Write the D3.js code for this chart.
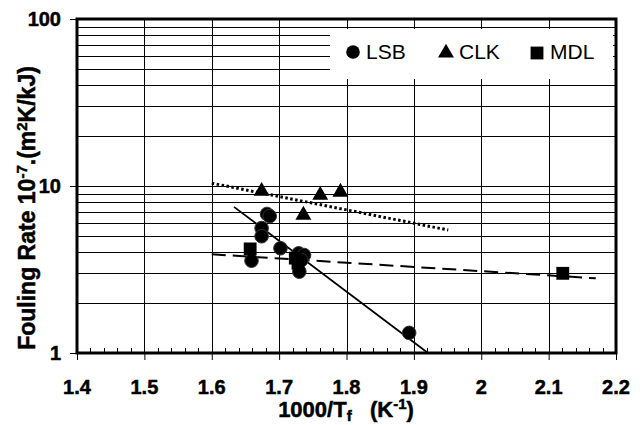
<!DOCTYPE html>
<html>
<head>
<meta charset="utf-8">
<script src="https://cdn.jsdelivr.net/npm/d3@7"></script>
<style>
  body { margin: 0; background: #fff; }
  svg { display: block; }
  text { font-family: "Liberation Sans", Arial, sans-serif; }
  .heavy { stroke: #000; stroke-width: 0.5px; }
</style>
</head>
<body>
<div id="chart"></div>
<script>
// data
var lsb = [
  [1.682, 6.8], [1.686, 6.6], [1.674, 5.6], [1.674, 5.0],
  [1.659, 3.57], [1.702, 4.24], [1.729, 3.95], [1.737, 3.86],
  [1.733, 3.6], [1.730, 3.07], [1.893, 1.32]
];
var clk = [[1.674, 9.3], [1.761, 8.8], [1.791, 9.2], [1.736, 6.7]];
var mdl = [[1.657, 4.2], [1.724, 3.7], [1.728, 3.45], [2.121, 3.0]];

var lsbFit = [[1.633, 7.5], [1.921, 1.0]];
var clkFit = [[1.60, 10.4], [1.951, 5.45]];
var mdlFit = [[1.60, 3.9], [2.17, 2.8]];

var xTicks = [1.4, 1.5, 1.6, 1.7, 1.8, 1.9, 2, 2.1, 2.2];
var yTicks = [1, 10, 100];

var W = 642, H = 425;
var margin = {top: 19, right: 26, bottom: 72, left: 77};
var width = W - margin.left - margin.right,
    height = H - margin.top - margin.bottom;

var svg = d3.select("#chart").append("svg")
    .attr("width", W)
    .attr("height", H);

var g = svg.append("g")
    .attr("transform", "translate(" + margin.left + "," + margin.top + ")");

var x = d3.scaleLinear().domain([1.4, 2.2]).range([0, width]);
var y = d3.scaleLog().domain([1, 100]).range([height, 0]);

// horizontal grid (every log minor)
var hGrid = [];
[1, 10].forEach(function(dec) {
  for (var k = 2; k <= 10; k++) hGrid.push(dec * k);
});
g.selectAll(".hgrid").data(hGrid).enter().append("line")
  .attr("x1", 0).attr("x2", width)
  .attr("y1", function(d) { return Math.round(y(d)) + 0.5; })
  .attr("y2", function(d) { return Math.round(y(d)) + 0.5; })
  .style("stroke", "#000").style("stroke-width", 1);

// vertical grid
g.selectAll(".vgrid").data(xTicks.slice(1, -1)).enter().append("line")
  .attr("y1", 0).attr("y2", height)
  .attr("x1", function(d) { return Math.round(x(d)) + 0.5; })
  .attr("x2", function(d) { return Math.round(x(d)) + 0.5; })
  .style("stroke", "#000").style("stroke-width", 1);

// minor ticks on x axis (inside)
var minor = d3.range(1.42, 2.2, 0.02).filter(function(d) {
  return Math.abs(d * 10 - Math.round(d * 10)) > 0.01;
});
g.selectAll(".mtick").data(minor).enter().append("line")
  .attr("x1", function(d) { return Math.round(x(d)) + 0.5; })
  .attr("x2", function(d) { return Math.round(x(d)) + 0.5; })
  .attr("y1", height).attr("y2", height - 5)
  .style("stroke", "#000").style("stroke-width", 1);

// legend box hides the grid behind it
var leg = g.append("g").attr("transform", "translate(253,10)");
leg.append("rect")
  .attr("width", 283).attr("height", 50)
  .attr("fill", "#fff");

// fit lines
var line = d3.line()
  .x(function(d) { return x(d[0]); })
  .y(function(d) { return y(d[1]); });

g.append("path").datum(clkFit)
  .attr("d", line)
  .style("fill", "none").style("stroke", "#000")
  .style("stroke-width", 3).style("stroke-dasharray", "2.5,2.5");
g.append("path").datum(mdlFit)
  .attr("d", line)
  .style("fill", "none").style("stroke", "#000")
  .style("stroke-width", 2).style("stroke-dasharray", "14,7");
g.append("path").datum(lsbFit)
  .attr("d", line)
  .style("fill", "none").style("stroke", "#000")
  .style("stroke-width", 1.8);

// markers
var tri = d3.symbol().type(d3.symbolTriangle).size(110);
var sq = d3.symbol().type(d3.symbolSquare).size(165);

g.selectAll(".lsb").data(lsb).enter().append("circle")
  .attr("cx", function(d) { return x(d[0]); })
  .attr("cy", function(d) { return y(d[1]); })
  .attr("r", 6.8)
  .style("fill", "#000").style("stroke", "#333").style("stroke-width", 1);

g.selectAll(".mdl").data(mdl).enter().append("path")
  .attr("d", sq)
  .attr("transform", function(d) { return "translate(" + x(d[0]) + "," + y(d[1]) + ")"; })
  .style("fill", "#000");

g.selectAll(".clk").data(clk).enter().append("path")
  .attr("d", tri)
  .attr("transform", function(d) { return "translate(" + x(d[0]) + "," + y(d[1]) + ")"; })
  .style("fill", "#000");

// frame
g.append("rect")
  .attr("x", 0).attr("y", 0)
  .attr("width", width).attr("height", height)
  .style("fill", "none").style("stroke", "#000").style("stroke-width", 3);

// x axis (tick marks from d3, labels drawn by hand so the style sticks)
var xAxis = d3.axisBottom(x).tickValues(xTicks).tickFormat("").tickSize(7);
var gx = g.append("g").attr("transform", "translate(0," + height + ")").call(xAxis);
gx.select(".domain").remove();

g.selectAll(".xlab").data(xTicks).enter().append("text")
  .attr("class", "heavy")
  .attr("x", function(d) { return x(d); })
  .attr("y", height + 41)
  .attr("text-anchor", "middle")
  .style("font-size", "20px").style("font-weight", "bold")
  .text(function(d) { return String(d); });

// y axis
var yAxis = d3.axisLeft(y).tickValues(yTicks).tickFormat("").tickSize(7);
var gy = g.append("g").call(yAxis);
gy.select(".domain").remove();

g.selectAll(".ylab").data(yTicks).enter().append("text")
  .attr("class", "heavy")
  .attr("x", -16)
  .attr("y", function(d) { return y(d) + 7; })
  .attr("text-anchor", "end")
  .style("font-size", "20px").style("font-weight", "bold")
  .text(function(d) { return String(d); });

// legend entries
var legItems = [
  {name: "LSB", shape: "circle", x: 23},
  {name: "CLK", shape: "tri", x: 116},
  {name: "MDL", shape: "sq", x: 207}
];
legItems.forEach(function(it) {
  if (it.shape === "circle") {
    leg.append("circle").attr("cx", it.x).attr("cy", 23).attr("r", 6.8).style("fill", "#000");
  } else if (it.shape === "tri") {
    leg.append("path").attr("d", tri).attr("transform", "translate(" + it.x + ",24)").style("fill", "#000");
  } else {
    leg.append("path").attr("d", sq).attr("transform", "translate(" + it.x + ",24)").style("fill", "#000");
  }
  leg.append("text")
    .attr("x", it.x + 13).attr("y", 30)
    .style("font-size", "21px")
    .text(it.name);
});

// axis titles
var xt = svg.append("text")
  .attr("class", "heavy")
  .attr("x", 346).attr("y", 417)
  .attr("text-anchor", "middle")
  .style("font-size", "22px").style("font-weight", "bold");
xt.append("tspan").text("1000/T");
xt.append("tspan").attr("dy", 4).style("font-size", "15px").text("f");
xt.append("tspan").attr("dy", -4).text("\u00a0\u00a0\u00a0(K");
xt.append("tspan").attr("dy", -8).style("font-size", "15px").text("-1");
xt.append("tspan").attr("dy", 8).text(")");

var yt = svg.append("text")
  .attr("class", "heavy")
  .attr("transform", "translate(35,208) rotate(-90)")
  .attr("text-anchor", "middle")
  .style("font-size", "23px").style("font-weight", "bold");
yt.append("tspan").text("Fouling Rate 10");
yt.append("tspan").attr("dy", -8).style("font-size", "15px").text("-7");
yt.append("tspan").attr("dy", 8).text(".(m");
yt.append("tspan").attr("dy", -8).style("font-size", "15px").text("2");
yt.append("tspan").attr("dy", 8).text("K/kJ)");
</script>
</body>
</html>
